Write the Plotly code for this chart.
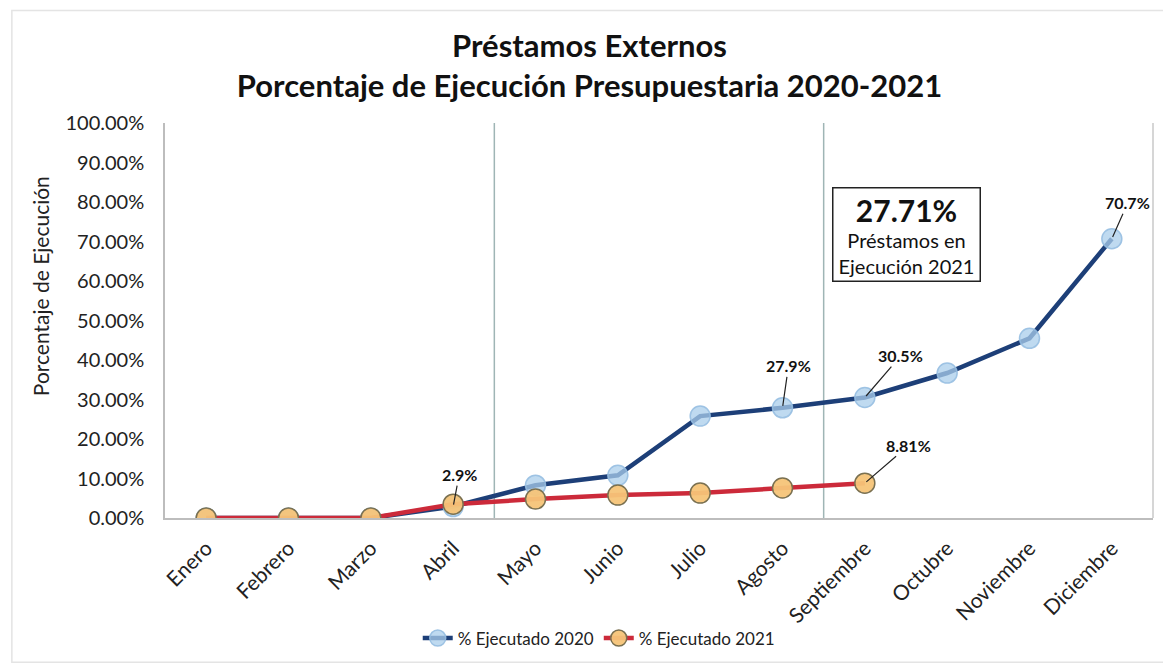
import plotly.graph_objects as go

meses = ["Enero", "Febrero", "Marzo", "Abril", "Mayo", "Junio", "Julio",
         "Agosto", "Septiembre", "Octubre", "Noviembre", "Diciembre"]
ejecutado_2020 = [0.0, 0.0, 0.0, 2.9, 8.3, 10.8, 25.8, 27.9, 30.5, 36.7, 45.5, 70.7]
ejecutado_2021 = [0.0, 0.0, 0.0, 3.5, 4.8, 5.8, 6.3, 7.6, 8.81]
y_ticks = [0, 10, 20, 30, 40, 50, 60, 70, 80, 90, 100]
y_ticklabels = [f"{v:.2f}%" for v in y_ticks]

FONT = "Lato"
fig = go.Figure()

fig.add_trace(go.Scatter(
    x=meses, y=ejecutado_2020, name="% Ejecutado 2020", mode="lines+markers",
    line=dict(color="#1d3f78", width=4.5),
    marker=dict(size=20, color="rgba(170,205,235,0.75)",
                line=dict(color="rgba(150,190,225,0.9)", width=1.5)),
))
fig.add_trace(go.Scatter(
    x=meses[:len(ejecutado_2021)], y=ejecutado_2021, name="% Ejecutado 2021",
    mode="lines+markers",
    line=dict(color="#cc2a3a", width=4.5),
    marker=dict(size=20, color="rgba(246,196,120,0.95)",
                line=dict(color="#7a7050", width=1.5)),
))

# vertical separators
for xv in [3.5, 7.5]:
    fig.add_shape(type="line", xref="x", yref="y", x0=xv, x1=xv, y0=0, y1=100,
                  line=dict(color="#9fb5b5", width=1.5), layer="below")
# right border of plot
fig.add_shape(type="line", xref="paper", yref="paper", x0=1, x1=1, y0=0, y1=1,
              line=dict(color="#c8c8c8", width=1.5), layer="below")
# faint outer chart border
fig.add_shape(type="rect", xref="paper", yref="paper", x0=-0.155, x1=1.012, y0=-0.365, y1=1.285,
              line=dict(color="#e4e4e4", width=1.5), layer="below")

labels = [
    (3, ejecutado_2020[3], "2.9%", 6, -32),
    (7, ejecutado_2020[7], "27.9%", 6, -42),
    (8, ejecutado_2020[8], "30.5%", 36, -42),
    (11, ejecutado_2020[11], "70.7%", 16, -36),
    (8, ejecutado_2021[8], "8.81%", 44, -38),
]
for xi, yv, txt, ax, ay in labels:
    fig.add_annotation(x=meses[xi], y=yv, text=f"<b>{txt}</b>", showarrow=True,
                       arrowhead=0, arrowwidth=1.2, arrowcolor="#222",
                       ax=ax, ay=ay, standoff=2,
                       font=dict(family=FONT, size=16, color="#111"))

fig.add_annotation(
    x=8.5, y=71.8, xref="x", yref="y", showarrow=False,
    text=("<span style='font-size:30px'><b>27.71%</b></span><br>"
          "<span style='font-size:20px'>Préstamos en</span><br>"
          "<span style='font-size:20px'>Ejecución 2021</span>"),
    font=dict(family=FONT, size=20, color="#111"),
    bordercolor="#222", borderwidth=1.5, bgcolor="white", borderpad=3,
    width=140, align="center",
)

# y-axis title
fig.add_annotation(
    x=-0.1265, y=0.587, xref="paper", yref="paper", showarrow=False,
    text="Porcentaje de Ejecución", textangle=-90,
    xanchor="center", yanchor="middle",
    font=dict(family=FONT, size=21, color="#222"),
)

fig.update_layout(
    width=1163, height=660,
    margin=dict(l=157, r=18, t=115, b=148),
    paper_bgcolor="white", plot_bgcolor="white",
    font=dict(family=FONT, size=18, color="#222"),
    title=dict(text="<b>Préstamos Externos<br>Porcentaje de Ejecución Presupuestaria 2020-2021</b>",
               x=0.5, xanchor="center", y=0.926, yanchor="middle",
               font=dict(family=FONT, size=31, color="#111")),
    showlegend=True,
    legend=dict(orientation="h", x=0.439, xanchor="center", y=-0.305, yanchor="middle",
                font=dict(family=FONT, size=17, color="#222"), itemwidth=30,
                bgcolor="rgba(0,0,0,0)"),
)
fig.update_xaxes(range=[-0.5, 11.5], tickangle=-45, showgrid=False, automargin=False,
                 showline=True, linecolor="#bdbdbd", linewidth=1.5,
                 ticks="", ticklabelstandoff=8,
                 tickfont=dict(family=FONT, size=21, color="#222"))
fig.update_yaxes(range=[0, 100], tickvals=y_ticks, ticktext=y_ticklabels, automargin=False,
                 showgrid=False, zeroline=False, showline=True, linecolor="#bdbdbd",
                 linewidth=1.5, ticks="", ticklabelstandoff=15,
                 tickfont=dict(family=FONT, size=20, color="#222"))

fig.write_html("out.html")
